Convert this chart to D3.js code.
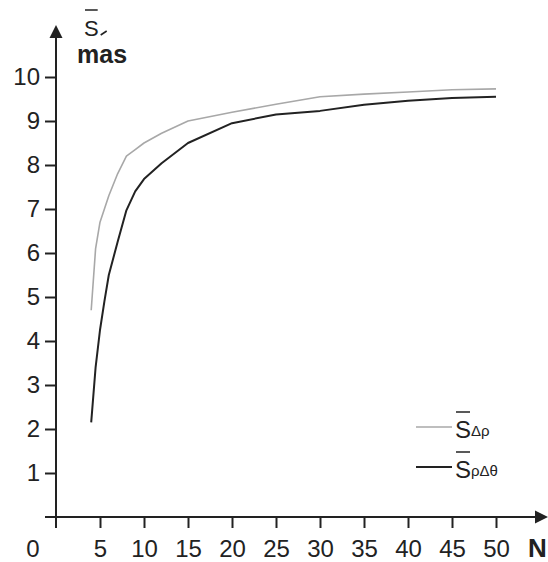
<!DOCTYPE html>
<html>
<head>
<meta charset="utf-8">
<script src="https://cdn.jsdelivr.net/npm/d3@7"></script>
<style>
  html, body { margin: 0; padding: 0; background: #fff; }
  svg { display: block; }
  text { font-family: "Liberation Sans", Arial, sans-serif; fill: #222; }
</style>
</head>
<body>
<svg id="chart" width="548" height="562"></svg>
<script>
// ---- data ----
const nValues = [4, 4.5, 5, 5.5, 6, 7, 8, 9, 10, 12, 15, 20, 25, 30, 35, 40, 45, 50];
const sDeltaRho = [4.7, 6.1, 6.7, 7.0, 7.3, 7.8, 8.2, 8.35, 8.5, 8.72, 9.0, 9.2, 9.38, 9.55, 9.61, 9.66, 9.71, 9.73];
const sRhoDeltaTheta = [2.15, 3.4, 4.25, 4.9, 5.5, 6.25, 6.97, 7.4, 7.68, 8.04, 8.5, 8.95, 9.15, 9.23, 9.37, 9.46, 9.52, 9.55];
const xTickValues = [5, 10, 15, 20, 25, 30, 35, 40, 45, 50];
const yTickValues = [1, 2, 3, 4, 5, 6, 7, 8, 9, 10];
const seriesNames = [
  { main: "S", sub: "\u0394\u03C1" },
  { main: "S", sub: "\u03C1\u0394\u03B8" }
];
const seriesColors = ["#a8a8a8", "#222222"];

// ---- layout ----
const svg = d3.select("#chart");
const x = d3.scaleLinear().domain([0, 50]).range([56, 496]);
const y = d3.scaleLinear().domain([0, 10]).range([517, 77]);
const axisColor = "#222";

// axes lines
svg.append("line").attr("x1", 45).attr("x2", 538).attr("y1", y(0)).attr("y2", y(0))
  .attr("stroke", axisColor).attr("stroke-width", 2);
svg.append("line").attr("x1", x(0)).attr("x2", x(0)).attr("y1", 528).attr("y2", 34)
  .attr("stroke", axisColor).attr("stroke-width", 2);
// arrows
svg.append("path").attr("d", `M${x(0)},25 L${x(0)-6.5},38 L${x(0)+6.5},38 Z`).attr("fill", axisColor);
svg.append("path").attr("d", `M548,${y(0)} L535,${y(0)-6.5} L535,${y(0)+6.5} Z`).attr("fill", axisColor);

// x ticks
const xAxis = d3.axisBottom(x).tickValues(xTickValues).tickSize(11).tickFormat(d3.format("d"));
const gx = svg.append("g").attr("transform", `translate(0,${y(0)})`).call(xAxis);
gx.select(".domain").remove();
gx.selectAll(".tick line").attr("stroke", axisColor).attr("stroke-width", 2);
gx.selectAll(".tick text").attr("font-size", 24).attr("fill", "#222")
  .attr("font-family", "Liberation Sans, Arial, sans-serif").attr("y", 40).attr("dy", null);

// y ticks
const yAxis = d3.axisLeft(y).tickValues(yTickValues).tickSize(11).tickPadding(5).tickFormat(d3.format("d"));
const gy = svg.append("g").attr("transform", `translate(${x(0)},0)`).call(yAxis);
gy.select(".domain").remove();
gy.selectAll(".tick line").attr("stroke", axisColor).attr("stroke-width", 2);
gy.selectAll(".tick text").attr("font-size", 24).attr("fill", "#222")
  .attr("font-family", "Liberation Sans, Arial, sans-serif");

// origin label
svg.append("text").attr("x", 33).attr("y", 557).attr("text-anchor", "middle")
  .attr("font-size", 24).text("0");
// N label
svg.append("text").attr("x", 528).attr("y", 557).attr("font-size", 26)
  .attr("font-weight", "bold").text("N");

// y axis title
const t1 = svg.append("text").attr("x", 84).attr("y", 35.5).attr("font-size", 22).text("S");
const b1 = t1.node().getBBox();
svg.append("line").attr("x1", b1.x + 1).attr("x2", b1.x + b1.width - 1).attr("y1", 10).attr("y2", 10)
  .attr("stroke", "#222").attr("stroke-width", 1.5);
svg.append("path")
  .attr("d", `M${b1.x + b1.width + 2},${35} L${b1.x + b1.width + 8},${31}`)
  .attr("stroke", "#222").attr("stroke-width", 1.6).attr("fill", "none");
svg.append("text").attr("x", 77).attr("y", 63).attr("font-size", 25).attr("font-weight", "bold").text("mas");

// lines
const seriesData = [sDeltaRho, sRhoDeltaTheta];
const line = d3.line().x((d, i) => x(nValues[i])).y(d => y(d));
seriesData.forEach((vals, k) => {
  svg.append("path").datum(vals).attr("d", line).attr("fill", "none")
    .attr("stroke", seriesColors[k]).attr("stroke-width", k === 0 ? 1.6 : 2)
    .attr("stroke-linejoin", "round");
});

// legend
const legendY = [427, 467];
seriesNames.forEach((s, k) => {
  const ly = legendY[k];
  svg.append("line").attr("x1", 416).attr("x2", 452).attr("y1", ly).attr("y2", ly)
    .attr("stroke", seriesColors[k]).attr("stroke-width", k === 0 ? 1.6 : 2);
  const tm = svg.append("text").attr("x", 455).attr("y", ly + 11).attr("font-size", 24).text(s.main);
  const bb = tm.node().getBBox();
  svg.append("line").attr("x1", bb.x + 1).attr("x2", bb.x + bb.width - 1)
    .attr("y1", ly - 15).attr("y2", ly - 15).attr("stroke", "#222").attr("stroke-width", 1.5);
  svg.append("text").attr("x", bb.x + bb.width).attr("y", ly + 9).attr("font-size", 15).text(s.sub);
});
</script>
</body>
</html>
